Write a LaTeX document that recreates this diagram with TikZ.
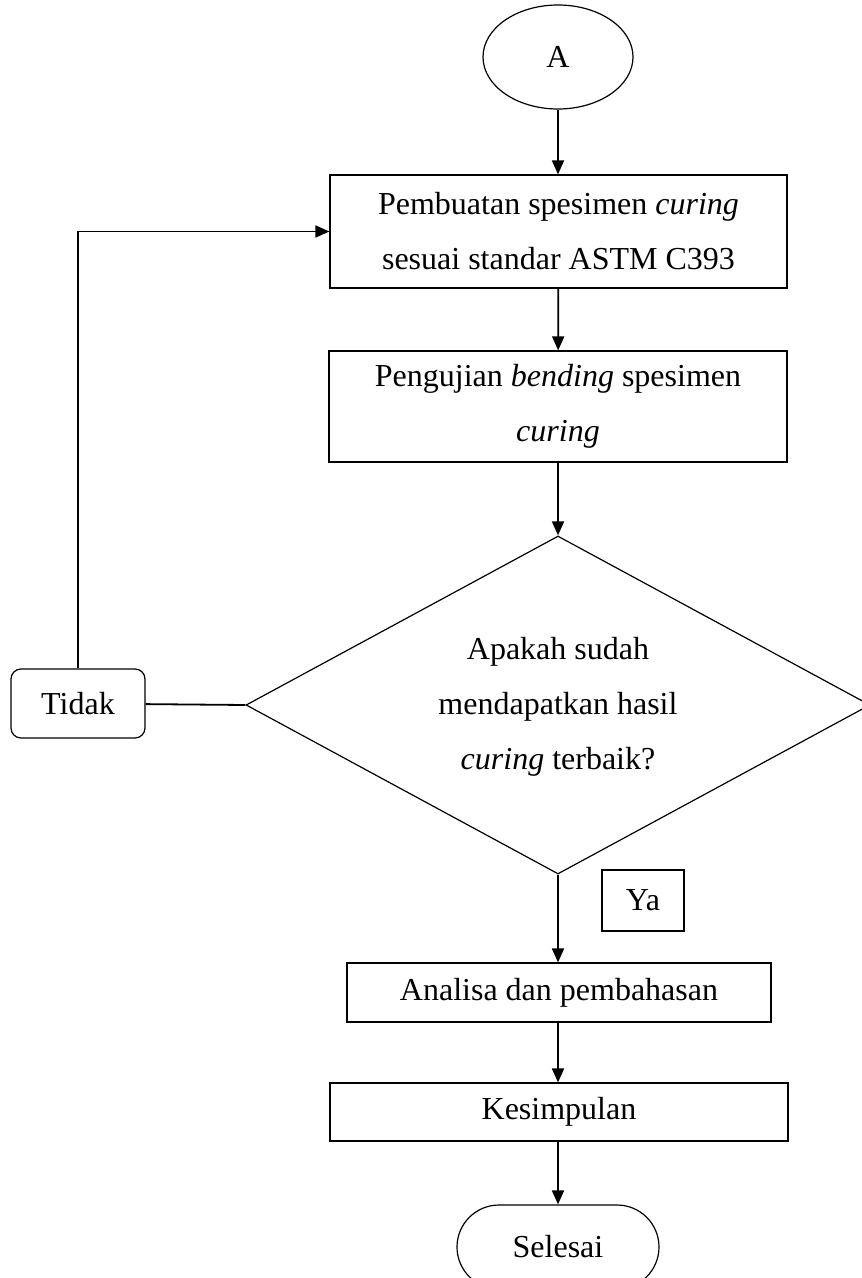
\documentclass[tikz,border=0pt]{standalone}
\usepackage{fontspec}
\setmainfont{Liberation Serif}
\usetikzlibrary{arrows.meta, shapes.geometric, shapes.misc}

\begin{document}
\begin{tikzpicture}[x=0.5pt, y=-0.5pt,
		every node/.style={font=\fontsize{16}{27.5}\selectfont, inner sep=0pt, align=center},
		kotak/.style={draw, line width=0.6pt, rectangle},
		panah/.style={-{Triangle[length=7pt, width=6pt]}, line width=0.9pt}]
		\useasboundingbox (0,0) rectangle (861,1278);
		% awal
		\node[draw, ellipse, line width=0.6pt, minimum width=75pt, minimum height=52pt] (a) at (558,57) {A};
		% pembuatan spesimen
		\node[kotak, minimum width=228.5pt, minimum height=56.5pt] (buat) at (558.5,231.5) {Pembuatan spesimen \textit{curing}\\ sesuai standar ASTM C393};
		% pengujian
		\node[kotak, minimum width=229pt, minimum height=55.5pt] (uji) at (558,406.5) {Pengujian \textit{bending} spesimen\\ \textit{curing}};
		% keputusan
		\node[draw, diamond, line width=0.6pt, minimum width=312pt, minimum height=169pt] (cek) at (558,705) {};
		\node (cektxt) at (558,707) {Apakah sudah\\ mendapatkan hasil\\ \textit{curing} terbaik?};
		% tidak / ya
		\node[kotak, rounded corners=5pt, minimum width=67pt, minimum height=34.5pt] (tidak) at (78,703.5) {Tidak};
		\node[kotak, minimum width=41pt, minimum height=30.5pt] (ya) at (643,900.5) {Ya};
		% analisa
		\node[kotak, minimum width=212pt, minimum height=29.5pt] (analisa) at (559,992.5) {Analisa dan pembahasan};
		% kesimpulan
		\node[kotak, minimum width=229pt, minimum height=29pt] (simpul) at (559,1112) {Kesimpulan};
		% selesai
		\node[draw, rounded rectangle, line width=0.6pt, minimum width=101pt, minimum height=42pt] (selesai) at (558,1247) {Selesai};

		\draw[panah] (a.south) -- (a.south |- buat.north);
		\draw[panah] (buat) -- (uji);
		\draw[panah] (uji) -- (cek);
		\draw[panah] (cek.south) -- (cek.south |- analisa.north);
		\draw[panah] (cek.south |- simpul.south) -- (selesai);
		\draw[panah] (cek.south |- analisa.south) -- (cek.south |- simpul.north);

		\draw[line width=0.9pt] (tidak) -- (cek.west);
		\draw[panah] (tidak) |- (buat);
	\end{tikzpicture}
\end{document}
